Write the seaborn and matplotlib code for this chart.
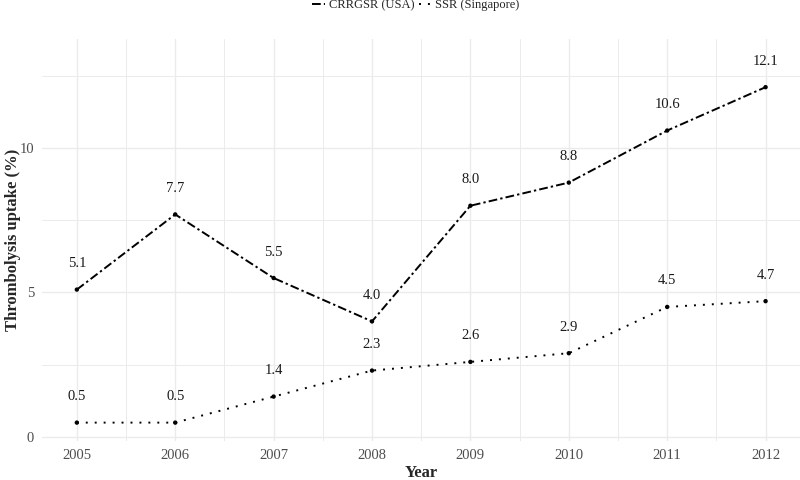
import numpy as np
import pandas as pd
import matplotlib
matplotlib.use("Agg")
import matplotlib.pyplot as plt
from matplotlib.lines import Line2D
import seaborn as sns

# data
years = [2005, 2006, 2007, 2008, 2009, 2010, 2011, 2012]
usa = [5.1, 7.7, 5.5, 4.0, 8.0, 8.8, 10.6, 12.1]
singapore = [0.5, 0.5, 1.4, 2.3, 2.6, 2.9, 4.5, 4.7]
series_names = ["CRRGSR (USA)", "SSR (Singapore)"]

df = pd.DataFrame({
    "Year": years * 2,
    "Uptake": usa + singapore,
    "Registry": [series_names[0]] * len(years) + [series_names[1]] * len(years),
})

sns.set_theme(style="whitegrid")
plt.rcParams["font.family"] = ["Liberation Serif", "DejaVu Serif"]

fig = plt.figure(figsize=(8, 4.8), dpi=100)
ax = fig.add_axes([0.053, 0.081, 0.947, 0.838])

dash_styles = {series_names[0]: (4.5, 1.6, 1.2, 1.6), series_names[1]: (1, 3.6)}
sns.lineplot(data=df, x="Year", y="Uptake", style="Registry", dashes=dash_styles,
             color="black", linewidth=1.4, legend=False, ax=ax)
sns.scatterplot(data=df, x="Year", y="Uptake", color="black", s=10,
                edgecolor="none", legend=False, ax=ax, zorder=3)

# value labels nudged above each point
for vals in (usa, singapore):
    for x, y in zip(years, vals):
        ax.text(x, y + 0.9, f"{y:.1f}", ha="center", va="center",
                fontsize=10.5, color="#1a1a1a")

ax.set_xticks(years)
ax.set_xticklabels([str(y) for y in years])
ax.set_yticks([0, 5, 10])
ax.set_xticks(np.arange(2004.5, 2012.6, 1.0), minor=True)
ax.set_yticks([2.5, 7.5, 12.5], minor=True)
ax.set_xlim(2004.65, 2012.35)
ax.set_ylim(-0.14, 13.77)
ax.grid(which="major", color="#EBEBEB", linewidth=1.0)
ax.grid(which="minor", color="#EBEBEB", linewidth=0.7)
ax.set_facecolor("white")
for s in ax.spines.values():
    s.set_visible(False)
ax.tick_params(axis="both", which="both", length=0, labelsize=10.5,
               labelcolor="#4D4D4D", pad=6)

ax.set_xlabel("Year", fontsize=12, fontweight="bold", labelpad=2)
ax.set_ylabel("Thrombolysis uptake (%)", fontsize=12, fontweight="bold", labelpad=-1)

handles = [
    Line2D([], [], color="black", linewidth=1.4, dashes=dash_styles[series_names[0]]),
    Line2D([], [], color="black", linewidth=1.4, dashes=dash_styles[series_names[1]]),
]
fig.legend(handles, series_names, loc="upper center", bbox_to_anchor=(0.52, 1.025),
           ncol=2, frameon=False, fontsize=9, handlelength=1.0,
           handletextpad=0.3, columnspacing=0.4)

fig.savefig("out.png", dpi=100, facecolor="white")
